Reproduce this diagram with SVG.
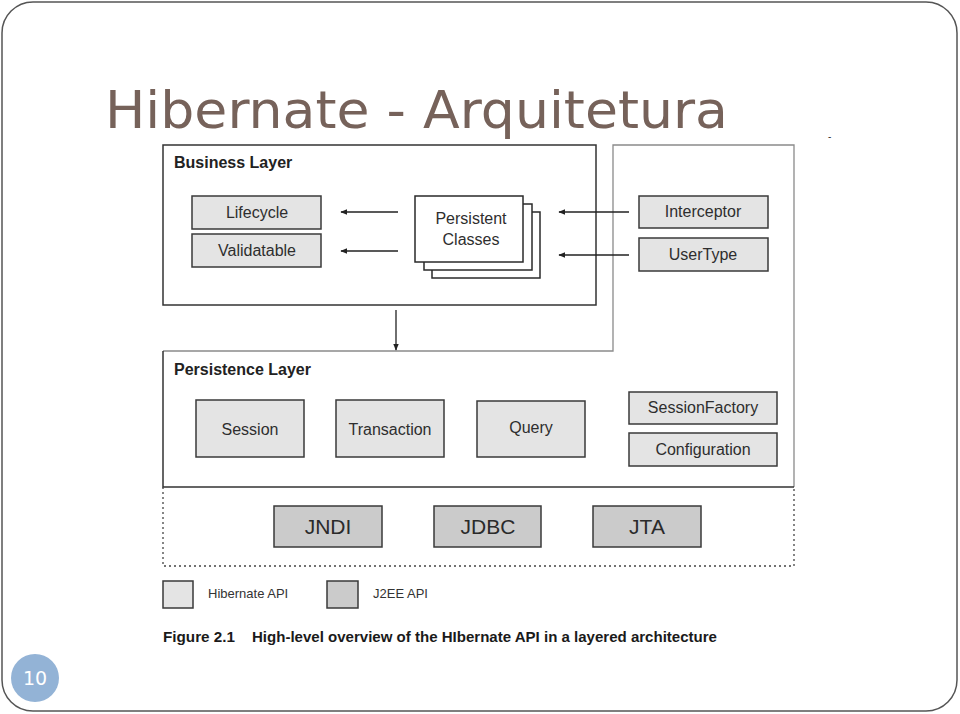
<svg xmlns="http://www.w3.org/2000/svg" width="960" height="714" viewBox="0 0 960 714">
<style>
.lbl{font-family:"Liberation Sans",Arial,sans-serif;font-size:16px;fill:#2e2e2e;text-anchor:middle}
.big{font-family:"Liberation Sans",Arial,sans-serif;font-size:21px;fill:#2a2a2a;text-anchor:middle}
.hdr{font-family:"Liberation Sans",Arial,sans-serif;font-size:16px;font-weight:bold;fill:#222}
.hib{fill:#e4e4e4;stroke:#3a3a3a;stroke-width:1.5}
.j2ee{fill:#cbcbcb;stroke:#3a3a3a;stroke-width:1.5}
.pc{fill:#fff;stroke:#2a2a2a;stroke-width:1.5}
.conn{stroke:#222;stroke-width:1.3;fill:none}
.leg{font-family:"Liberation Sans",Arial,sans-serif;font-size:13px;fill:#333}
.cap{font-family:"Liberation Sans",Arial,sans-serif;font-size:14px;font-weight:bold;fill:#1a1a1a}
</style>
<defs>
<marker id="ah" viewBox="0 0 10 10" refX="9" refY="5" markerWidth="7" markerHeight="7" orient="auto" markerUnits="userSpaceOnUse">
<path d="M0,1 L10,5 L0,9 Z" fill="#222"/>
</marker>
</defs>
<rect x="2" y="2" width="955" height="709" rx="31" ry="31" fill="#fff" stroke="#555" stroke-width="1.5"/>
<text x="105" y="128" font-family="DejaVu Sans,Verdana,sans-serif" font-size="52" fill="#76625a" textLength="623" lengthAdjust="spacingAndGlyphs">Hibernate - Arquitetura</text>
<text x="828" y="140" font-family="Liberation Sans,Arial,sans-serif" font-size="10" fill="#333">-</text>

<g id="business-layer">
<rect x="163" y="145" width="433" height="160" fill="none" stroke="#333" stroke-width="1.5"/>
<text class="hdr" x="174" y="168">Business Layer</text>
</g>
<g id="persistence-layer">
<path d="M163,351 H613 V145 H794 V487" fill="none" stroke="#8a8a8a" stroke-width="1.3"/>
<path d="M163,351 V487 H794" fill="none" stroke="#333" stroke-width="1.5"/>
<text class="hdr" x="174" y="375">Persistence Layer</text>
</g>
<g id="j2ee-layer">
<path d="M163,487 V566 H794 V487" fill="none" stroke="#444" stroke-width="1.3" stroke-dasharray="2,3"/>
</g>

<g id="lifecycle"><rect class="hib" x="192" y="196" width="129" height="33"/><text class="lbl" x="257" y="218">Lifecycle</text></g>
<g id="validatable"><rect class="hib" x="192" y="234" width="129" height="33"/><text class="lbl" x="257" y="256">Validatable</text></g>
<g id="persistent-classes">
<rect class="pc" x="432" y="212" width="108" height="66"/>
<rect class="pc" x="424" y="204" width="108" height="66"/>
<rect class="pc" x="415" y="196" width="108" height="66"/>
<text class="lbl" x="471" y="224">Persistent</text>
<text class="lbl" x="471" y="245">Classes</text>
</g>
<g id="interceptor"><rect class="hib" x="639" y="196" width="129" height="32"/><text class="lbl" x="703" y="217">Interceptor</text></g>
<g id="usertype"><rect class="hib" x="639" y="238" width="129" height="33"/><text class="lbl" x="703" y="260">UserType</text></g>

<g id="session"><rect class="hib" x="196" y="400" width="108" height="57"/><text class="lbl" x="250" y="435">Session</text></g>
<g id="transaction"><rect class="hib" x="336" y="400" width="108" height="57"/><text class="lbl" x="390" y="435">Transaction</text></g>
<g id="query"><rect class="hib" x="477" y="401" width="108" height="56"/><text class="lbl" x="531" y="433">Query</text></g>
<g id="sessionfactory"><rect class="hib" x="629" y="392" width="148" height="32"/><text class="lbl" x="703" y="413">SessionFactory</text></g>
<g id="configuration"><rect class="hib" x="629" y="433" width="148" height="33"/><text class="lbl" x="703" y="455">Configuration</text></g>

<g id="jndi"><rect class="j2ee" x="274" y="506" width="108" height="41"/><text class="big" x="328" y="534">JNDI</text></g>
<g id="jdbc"><rect class="j2ee" x="434" y="506" width="107" height="41"/><text class="big" x="488" y="534">JDBC</text></g>
<g id="jta"><rect class="j2ee" x="593" y="506" width="108" height="41"/><text class="big" x="647" y="534">JTA</text></g>

<g id="connectors">
<line class="conn" x1="398" y1="212" x2="341" y2="212" marker-end="url(#ah)"/>
<line class="conn" x1="398" y1="251" x2="341" y2="251" marker-end="url(#ah)"/>
<line class="conn" x1="629" y1="212" x2="559" y2="212" marker-end="url(#ah)"/>
<line class="conn" x1="629" y1="255" x2="559" y2="255" marker-end="url(#ah)"/>
<line class="conn" x1="396" y1="310" x2="396" y2="350" marker-end="url(#ah)"/>
</g>

<g id="legend">
<rect class="hib" x="163" y="581" width="30" height="27" stroke-width="1.2"/>
<text class="leg" x="208" y="598">Hibernate API</text>
<rect class="j2ee" x="327" y="581" width="31" height="27" stroke-width="1.2"/>
<text class="leg" x="373" y="598">J2EE API</text>
</g>
<text class="cap" x="163" y="642" textLength="72" lengthAdjust="spacingAndGlyphs">Figure 2.1</text>
<text class="cap" x="252" y="642" textLength="465" lengthAdjust="spacingAndGlyphs">High-level overview of the HIbernate API in a layered architecture</text>

<g id="page-number">
<circle cx="35" cy="678" r="24" fill="#93b3d6"/>
<text x="35" y="685" font-family="DejaVu Sans,Verdana,sans-serif" font-size="19" fill="#fff" text-anchor="middle">10</text>
</g>
</svg>
